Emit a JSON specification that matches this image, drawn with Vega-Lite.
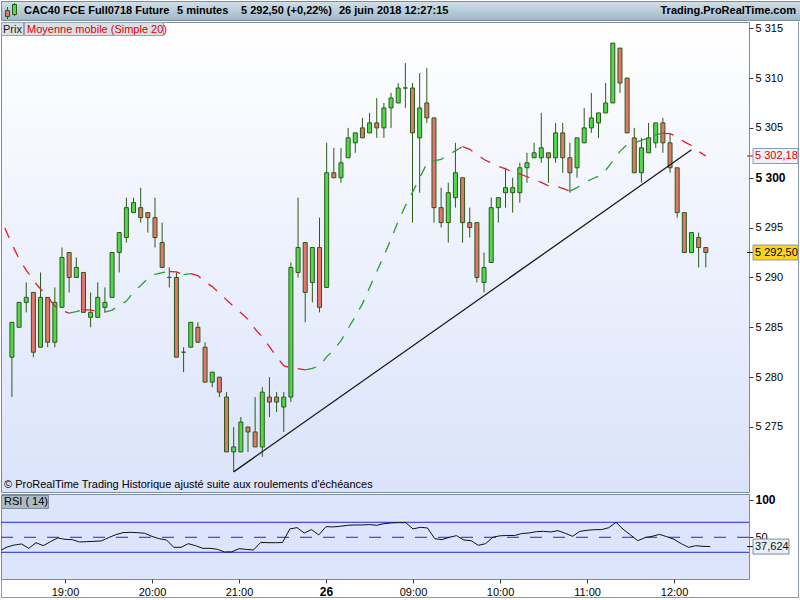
{
  "$schema": "https://vega.github.io/schema/vega-lite/v6.json",
  "padding": 0,
  "background": "#ffffff",
  "config": {
    "font": "Liberation Sans",
    "locale": {"number": {"decimal": ",", "thousands": " ", "grouping": [3], "currency": ["", " €"]}},
    "view": {"stroke": "#7b8d9e", "strokeWidth": 1},
    "axis": {"labelFont": "Liberation Sans", "labelFontSize": 11, "labelColor": "#000000", "tickColor": "#3a3a3a", "tickSize": 4, "domain": false, "grid": false, "labelPadding": 2}
  },
  "datasets": {
    "candles": [
      {"i":0,"o":5282,"h":5285.5,"l":5278,"c":5285.5},
      {"i":1,"o":5285,"h":5287.5,"l":5285,"c":5287.5},
      {"i":2,"o":5287.5,"h":5289.5,"l":5286.5,"c":5288},
      {"i":3,"o":5288.5,"h":5288.5,"l":5282,"c":5282.5},
      {"i":4,"o":5283,"h":5290.5,"l":5283,"c":5288},
      {"i":5,"o":5288,"h":5288,"l":5283,"c":5283.5},
      {"i":6,"o":5283.5,"h":5289,"l":5283,"c":5287.5},
      {"i":7,"o":5287,"h":5293,"l":5287,"c":5292},
      {"i":8,"o":5292.5,"h":5292.5,"l":5288.5,"c":5290},
      {"i":9,"o":5290,"h":5292,"l":5290,"c":5291},
      {"i":10,"o":5290.5,"h":5290.5,"l":5286.5,"c":5286.5},
      {"i":11,"o":5286,"h":5288.5,"l":5285,"c":5286.5},
      {"i":12,"o":5286,"h":5289.5,"l":5286,"c":5288},
      {"i":13,"o":5287,"h":5289,"l":5286.5,"c":5287.5},
      {"i":14,"o":5288,"h":5292.5,"l":5288,"c":5292.5},
      {"i":15,"o":5292.5,"h":5294.5,"l":5290.5,"c":5294.5},
      {"i":16,"o":5294,"h":5298,"l":5293.5,"c":5297},
      {"i":17,"o":5296.5,"h":5298,"l":5296.5,"c":5297.5},
      {"i":18,"o":5297,"h":5299,"l":5295.5,"c":5296},
      {"i":19,"o":5296.5,"h":5296.5,"l":5294.5,"c":5296},
      {"i":20,"o":5296,"h":5298,"l":5293,"c":5294},
      {"i":21,"o":5293.5,"h":5295.5,"l":5291,"c":5291},
      {"i":22,"o":5290,"h":5291,"l":5289,"c":5290},
      {"i":23,"o":5290,"h":5290.5,"l":5282,"c":5282},
      {"i":24,"o":5282.5,"h":5283,"l":5280.5,"c":5282.5},
      {"i":25,"o":5283,"h":5285.5,"l":5283,"c":5285.5},
      {"i":26,"o":5285,"h":5285.5,"l":5283.5,"c":5283.5},
      {"i":27,"o":5283,"h":5283.5,"l":5279.5,"c":5279.5},
      {"i":28,"o":5279.5,"h":5280.5,"l":5279,"c":5280.5},
      {"i":29,"o":5280,"h":5280,"l":5278,"c":5278.5},
      {"i":30,"o":5278,"h":5278.5,"l":5272.5,"c":5272.5},
      {"i":31,"o":5272.5,"h":5275,"l":5270.5,"c":5273},
      {"i":32,"o":5272.5,"h":5276,"l":5272.5,"c":5275.5},
      {"i":33,"o":5275,"h":5275,"l":5272.5,"c":5274.5},
      {"i":34,"o":5274.5,"h":5278,"l":5273,"c":5273},
      {"i":35,"o":5273,"h":5279,"l":5272,"c":5278.5},
      {"i":36,"o":5278,"h":5280,"l":5276,"c":5277.5},
      {"i":37,"o":5278,"h":5278.5,"l":5276.5,"c":5277.5},
      {"i":38,"o":5277,"h":5278.5,"l":5274.5,"c":5278},
      {"i":39,"o":5278,"h":5291.5,"l":5277.5,"c":5291},
      {"i":40,"o":5290.5,"h":5298,"l":5290,"c":5293},
      {"i":41,"o":5293.5,"h":5293.5,"l":5285.5,"c":5288.5},
      {"i":42,"o":5289.5,"h":5293,"l":5287.5,"c":5293},
      {"i":43,"o":5293,"h":5296,"l":5286.5,"c":5287},
      {"i":44,"o":5289,"h":5303.5,"l":5289,"c":5300.5},
      {"i":45,"o":5300.5,"h":5303,"l":5300,"c":5300},
      {"i":46,"o":5300,"h":5303,"l":5299.5,"c":5301.5},
      {"i":47,"o":5302,"h":5305,"l":5302,"c":5304},
      {"i":48,"o":5303.5,"h":5304.5,"l":5302.5,"c":5304.5},
      {"i":49,"o":5305,"h":5306,"l":5304,"c":5304},
      {"i":50,"o":5304.5,"h":5306.5,"l":5304.5,"c":5305.5},
      {"i":51,"o":5305.5,"h":5308,"l":5304,"c":5305},
      {"i":52,"o":5305,"h":5307.5,"l":5304,"c":5307},
      {"i":53,"o":5307,"h":5308.5,"l":5305,"c":5308},
      {"i":54,"o":5307.5,"h":5309.5,"l":5307.5,"c":5309},
      {"i":55,"o":5309,"h":5311.5,"l":5307,"c":5309},
      {"i":56,"o":5309,"h":5309.5,"l":5295.5,"c":5304.5},
      {"i":57,"o":5304,"h":5310.5,"l":5298.5,"c":5307},
      {"i":58,"o":5307.5,"h":5311,"l":5305.5,"c":5306},
      {"i":59,"o":5306,"h":5306,"l":5295.5,"c":5297},
      {"i":60,"o":5297,"h":5299,"l":5295,"c":5295.5},
      {"i":61,"o":5295.5,"h":5299.5,"l":5293.5,"c":5298.5},
      {"i":62,"o":5298,"h":5303.5,"l":5297,"c":5300.5},
      {"i":63,"o":5300,"h":5300,"l":5293.5,"c":5295.5},
      {"i":64,"o":5295.5,"h":5297,"l":5294,"c":5295},
      {"i":65,"o":5295.5,"h":5295.5,"l":5289.5,"c":5290},
      {"i":66,"o":5289.5,"h":5292.5,"l":5288.5,"c":5291},
      {"i":67,"o":5291.5,"h":5298,"l":5291.5,"c":5297},
      {"i":68,"o":5297,"h":5298,"l":5295.5,"c":5298},
      {"i":69,"o":5298.5,"h":5301,"l":5297,"c":5299},
      {"i":70,"o":5298.5,"h":5300,"l":5296.5,"c":5299},
      {"i":71,"o":5298.5,"h":5301.5,"l":5297.5,"c":5301},
      {"i":72,"o":5301,"h":5302.5,"l":5299.5,"c":5301.5},
      {"i":73,"o":5302,"h":5303.5,"l":5302,"c":5302.5},
      {"i":74,"o":5302,"h":5306.5,"l":5301.5,"c":5303},
      {"i":75,"o":5302.5,"h":5302.5,"l":5299.5,"c":5302},
      {"i":76,"o":5302,"h":5305.5,"l":5301.5,"c":5304.5},
      {"i":77,"o":5304.5,"h":5305.5,"l":5300.5,"c":5302},
      {"i":78,"o":5302,"h":5303.5,"l":5298.5,"c":5300.5},
      {"i":79,"o":5301,"h":5304,"l":5300,"c":5304},
      {"i":80,"o":5303.5,"h":5307,"l":5303.5,"c":5305},
      {"i":81,"o":5305,"h":5308.5,"l":5304.5,"c":5306},
      {"i":82,"o":5305.5,"h":5306.5,"l":5304,"c":5306.5},
      {"i":83,"o":5306.5,"h":5309.5,"l":5306.5,"c":5307.5},
      {"i":84,"o":5307.5,"h":5313.5,"l":5307.5,"c":5313.5},
      {"i":85,"o":5313,"h":5313,"l":5308.5,"c":5309.5},
      {"i":86,"o":5310,"h":5310,"l":5304.5,"c":5304.5},
      {"i":87,"o":5304,"h":5305,"l":5300.5,"c":5300.5},
      {"i":88,"o":5300.5,"h":5304,"l":5299.5,"c":5303},
      {"i":89,"o":5302.5,"h":5305.5,"l":5302.5,"c":5304},
      {"i":90,"o":5303.5,"h":5305.5,"l":5303,"c":5305.5},
      {"i":91,"o":5305.5,"h":5306,"l":5302.5,"c":5303.5},
      {"i":92,"o":5303.5,"h":5304.5,"l":5300.5,"c":5301},
      {"i":93,"o":5301,"h":5301,"l":5296,"c":5296.5},
      {"i":94,"o":5296.5,"h":5296.5,"l":5292.5,"c":5292.5},
      {"i":95,"o":5292.5,"h":5294.5,"l":5292.5,"c":5294.5},
      {"i":96,"o":5294,"h":5294.5,"l":5291,"c":5293},
      {"i":97,"o":5293,"h":5293,"l":5291,"c":5292.5}
    ],
    "ma": [
      {"i":-1,"v":5294.96,"s":1,"d":"down"},{"i":0,"v":5293.35,"s":1,"d":"down"},{"i":1,"v":5291.85,"s":1,"d":"down"},{"i":2,"v":5290.74,"s":1,"d":"down"},{"i":3,"v":5289.69,"s":1,"d":"down"},{"i":4,"v":5288.84,"s":1,"d":"down"},{"i":5,"v":5288.03,"s":1,"d":"down"},{"i":6,"v":5287.13,"s":1,"d":"down"},{"i":7,"v":5286.68,"s":1,"d":"down"},{"i":8,"v":5286.43,"s":1,"d":"down"},
      {"i":8,"v":5286.43,"s":2,"d":"up"},{"i":9,"v":5286.58,"s":2,"d":"up"},{"i":10,"v":5286.78,"s":2,"d":"up"},
      {"i":10,"v":5286.78,"s":3,"d":"down"},{"i":11,"v":5286.73,"s":3,"d":"down"},{"i":12,"v":5286.63,"s":3,"d":"down"},{"i":13,"v":5286.53,"s":3,"d":"down"},
      {"i":13,"v":5286.53,"s":4,"d":"up"},{"i":14,"v":5286.73,"s":4,"d":"up"},{"i":15,"v":5287.18,"s":4,"d":"up"},{"i":16,"v":5287.63,"s":4,"d":"up"},{"i":17,"v":5288.54,"s":4,"d":"up"},{"i":18,"v":5289.19,"s":4,"d":"up"},{"i":19,"v":5289.88,"s":4,"d":"up"},{"i":20,"v":5290.3,"s":4,"d":"up"},{"i":21,"v":5290.48,"s":4,"d":"up"},{"i":22,"v":5290.58,"s":4,"d":"up"},
      {"i":22,"v":5290.58,"s":5,"d":"down"},{"i":23,"v":5290.55,"s":5,"d":"down"},{"i":24,"v":5290.28,"s":5,"d":"down"},
      {"i":24,"v":5290.28,"s":6,"d":"up"},{"i":25,"v":5290.38,"s":6,"d":"up"},
      {"i":25,"v":5290.38,"s":7,"d":"down"},{"i":26,"v":5290.18,"s":7,"d":"down"},{"i":27,"v":5289.55,"s":7,"d":"down"},{"i":28,"v":5289.08,"s":7,"d":"down"},{"i":29,"v":5288.45,"s":7,"d":"down"},{"i":30,"v":5287.75,"s":7,"d":"down"},{"i":31,"v":5287.08,"s":7,"d":"down"},{"i":32,"v":5286.45,"s":7,"d":"down"},{"i":33,"v":5285.8,"s":7,"d":"down"},{"i":34,"v":5284.83,"s":7,"d":"down"},{"i":35,"v":5284.03,"s":7,"d":"down"},{"i":36,"v":5283.05,"s":7,"d":"down"},{"i":37,"v":5282.05,"s":7,"d":"down"},{"i":38,"v":5281.15,"s":7,"d":"down"},{"i":39,"v":5280.9,"s":7,"d":"down"},{"i":40,"v":5280.85,"s":7,"d":"down"},{"i":41,"v":5280.73,"s":7,"d":"down"},
      {"i":41,"v":5280.73,"s":8,"d":"up"},{"i":42,"v":5280.88,"s":8,"d":"up"},{"i":43,"v":5281.13,"s":8,"d":"up"},{"i":44,"v":5282.03,"s":8,"d":"up"},{"i":45,"v":5282.75,"s":8,"d":"up"},{"i":46,"v":5283.65,"s":8,"d":"up"},{"i":47,"v":5284.88,"s":8,"d":"up"},{"i":48,"v":5286.08,"s":8,"d":"up"},{"i":49,"v":5287.35,"s":8,"d":"up"},{"i":50,"v":5289.0,"s":8,"d":"up"},{"i":51,"v":5290.6,"s":8,"d":"up"},{"i":52,"v":5292.18,"s":8,"d":"up"},{"i":53,"v":5293.85,"s":8,"d":"up"},{"i":54,"v":5295.65,"s":8,"d":"up"},{"i":55,"v":5297.18,"s":8,"d":"up"},{"i":56,"v":5298.53,"s":8,"d":"up"},{"i":57,"v":5300.0,"s":8,"d":"up"},{"i":58,"v":5301.4,"s":8,"d":"up"},{"i":59,"v":5301.7,"s":8,"d":"up"},{"i":60,"v":5301.83,"s":8,"d":"up"},{"i":61,"v":5302.33,"s":8,"d":"up"},{"i":62,"v":5302.7,"s":8,"d":"up"},{"i":63,"v":5303.13,"s":8,"d":"up"},
      {"i":63,"v":5303.13,"s":9,"d":"down"},{"i":64,"v":5302.85,"s":9,"d":"down"},{"i":65,"v":5302.35,"s":9,"d":"down"},{"i":66,"v":5301.83,"s":9,"d":"down"},{"i":67,"v":5301.48,"s":9,"d":"down"},{"i":68,"v":5301.15,"s":9,"d":"down"},{"i":69,"v":5300.9,"s":9,"d":"down"},{"i":70,"v":5300.58,"s":9,"d":"down"},{"i":71,"v":5300.38,"s":9,"d":"down"},{"i":72,"v":5300.1,"s":9,"d":"down"},{"i":73,"v":5299.83,"s":9,"d":"down"},{"i":74,"v":5299.53,"s":9,"d":"down"},{"i":75,"v":5299.18,"s":9,"d":"down"},{"i":76,"v":5299.18,"s":9,"d":"down"},{"i":77,"v":5298.93,"s":9,"d":"down"},{"i":78,"v":5298.65,"s":9,"d":"down"},
      {"i":78,"v":5298.65,"s":10,"d":"up"},{"i":79,"v":5299.0,"s":10,"d":"up"},{"i":80,"v":5299.48,"s":10,"d":"up"},{"i":81,"v":5299.85,"s":10,"d":"up"},{"i":82,"v":5300.15,"s":10,"d":"up"},{"i":83,"v":5300.75,"s":10,"d":"up"},{"i":84,"v":5301.68,"s":10,"d":"up"},{"i":85,"v":5302.65,"s":10,"d":"up"},{"i":86,"v":5303.33,"s":10,"d":"up"},{"i":87,"v":5303.5,"s":10,"d":"up"},{"i":88,"v":5303.75,"s":10,"d":"up"},{"i":89,"v":5304.0,"s":10,"d":"up"},{"i":90,"v":5304.33,"s":10,"d":"up"},{"i":91,"v":5304.45,"s":10,"d":"up"},
      {"i":91,"v":5304.45,"s":11,"d":"down"},{"i":92,"v":5304.43,"s":11,"d":"down"},{"i":93,"v":5304.13,"s":11,"d":"down"},{"i":94,"v":5303.6,"s":11,"d":"down"},{"i":95,"v":5303.23,"s":11,"d":"down"},{"i":96,"v":5302.65,"s":11,"d":"down"},{"i":97,"v":5302.18,"s":11,"d":"down"}
    ],
    "rsi": [
      {"i":-1,"r":32.0},{"i":0,"r":37.0},{"i":1,"r":39.7},{"i":2,"r":41.1},{"i":3,"r":35.3},{"i":4,"r":42.8},{"i":5,"r":38.8},{"i":6,"r":44.2},{"i":7,"r":49.1},{"i":8,"r":47.3},{"i":9,"r":46.9},
      {"i":10,"r":43.7},{"i":11,"r":44.2},{"i":12,"r":44.6},{"i":13,"r":45.1},{"i":14,"r":49.5},{"i":15,"r":53.5},{"i":16,"r":56.2},{"i":17,"r":56.6},{"i":18,"r":56.2},{"i":19,"r":55.3},
      {"i":20,"r":51.2},{"i":21,"r":48.1},{"i":22,"r":46.4},{"i":23,"r":36.6},{"i":24,"r":36.6},{"i":25,"r":41.5},{"i":26,"r":38.8},{"i":27,"r":35.3},{"i":28,"r":35.3},{"i":29,"r":34.0},
      {"i":30,"r":30.4},{"i":31,"r":30.6},{"i":32,"r":34.8},{"i":33,"r":33.9},{"i":34,"r":33.1},{"i":35,"r":43.3},{"i":36,"r":42.8},{"i":37,"r":42.8},{"i":38,"r":43.0},{"i":39,"r":61.1},
      {"i":40,"r":62.9},{"i":41,"r":55.7},{"i":42,"r":60.2},{"i":43,"r":53.1},{"i":44,"r":64.2},{"i":45,"r":63.8},{"i":46,"r":64.7},{"i":47,"r":66.0},{"i":48,"r":66.4},{"i":49,"r":66.4},
      {"i":50,"r":66.9},{"i":51,"r":66.0},{"i":52,"r":68.1},{"i":53,"r":69.1},{"i":54,"r":69.5},{"i":55,"r":69.5},{"i":56,"r":61.1},{"i":57,"r":63.3},{"i":58,"r":62.4},{"i":59,"r":48.2},
      {"i":60,"r":46.9},{"i":61,"r":50.0},{"i":62,"r":52.2},{"i":63,"r":46.4},{"i":64,"r":45.5},{"i":65,"r":39.3},{"i":66,"r":41.5},{"i":67,"r":50.0},{"i":68,"r":52.0},{"i":69,"r":52.4},
      {"i":70,"r":52.4},{"i":71,"r":55.0},{"i":72,"r":55.7},{"i":73,"r":57.5},{"i":74,"r":57.9},{"i":75,"r":57.1},{"i":76,"r":58.8},{"i":77,"r":55.3},{"i":78,"r":51.3},{"i":79,"r":57.9},
      {"i":80,"r":59.3},{"i":81,"r":60.2},{"i":82,"r":60.2},{"i":83,"r":62.8},{"i":84,"r":69.9},{"i":85,"r":60.6},{"i":86,"r":53.1},{"i":87,"r":45.5},{"i":88,"r":49.5},{"i":89,"r":51.3},
      {"i":90,"r":53.9},{"i":91,"r":50.8},{"i":92,"r":47.3},{"i":93,"r":41.5},{"i":94,"r":36.6},{"i":95,"r":38.8},{"i":96,"r":37.9},{"i":97,"r":37.624}
    ],
    "trend": [{"i":31,"p":5270.5},{"i":95,"p":5302.8}],
    "tags": [{"p":5302.18,"t":"5 302,18","k":"ma"},{"p":5292.5,"t":"5 292,50","k":"last"}],
    "rsitag": [{"r":37.624,"t":"37,624"}]
  },
  "bounds": "flush",
  "spacing": 2,
  "vconcat": [
    {
      "width": 800,
      "height": 19,
      "view": {"fill": {"gradient": "linear", "x1": 0, "y1": 0, "x2": 0, "y2": 1, "stops": [{"offset": 0, "color": "#d2e0e9"}, {"offset": 1, "color": "#9fb7c7"}]}, "stroke": "#7b8d9e"},
      "data": {"values": [{}]},
      "layer": [
        {"mark": {"type": "rule", "color": "#2a5a1a"}, "encoding": {"x": {"value": 6.5}, "y": {"value": 6}, "y2": {"value": 18}}},
        {"mark": {"type": "rect", "fill": "#e3756c", "stroke": "#2a5a1a", "strokeWidth": 1}, "encoding": {"x": {"value": 4.5}, "x2": {"value": 8.5}, "y": {"value": 9.5}, "y2": {"value": 15.5}}},
        {"mark": {"type": "rule", "color": "#2a5a1a"}, "encoding": {"x": {"value": 13.5}, "y": {"value": 2}, "y2": {"value": 15}}},
        {"mark": {"type": "rect", "fill": "#52d64c", "stroke": "#2a5a1a", "strokeWidth": 1}, "encoding": {"x": {"value": 11.5}, "x2": {"value": 15.5}, "y": {"value": 3.5}, "y2": {"value": 13.5}}},
        {"mark": {"type": "text", "text": "CAC40 FCE Full0718 Future", "align": "left", "baseline": "middle", "fontSize": 11, "fontWeight": "bold", "color": "#000000"}, "encoding": {"x": {"value": 23}, "y": {"value": 10}}},
        {"mark": {"type": "text", "text": "5 minutes", "align": "left", "baseline": "middle", "fontSize": 11, "fontWeight": "bold", "color": "#000000"}, "encoding": {"x": {"value": 176}, "y": {"value": 10}}},
        {"mark": {"type": "text", "text": "5 292,50 (+0,22%)", "align": "left", "baseline": "middle", "fontSize": 11, "fontWeight": "bold", "color": "#000000"}, "encoding": {"x": {"value": 240}, "y": {"value": 10}}},
        {"mark": {"type": "text", "text": "26 juin 2018 12:27:15", "align": "left", "baseline": "middle", "fontSize": 11, "fontWeight": "bold", "color": "#000000"}, "encoding": {"x": {"value": 338}, "y": {"value": 10}}},
        {"mark": {"type": "text", "text": "Trading.ProRealTime.com", "align": "right", "baseline": "middle", "fontSize": 11, "fontWeight": "bold", "color": "#000000"}, "encoding": {"x": {"value": 795}, "y": {"value": 10}}}
      ]
    },
    {
      "width": 748,
      "height": 470,
      "view": {"fill": {"gradient": "linear", "x1": 0, "y1": 0, "x2": 0, "y2": 1, "stops": [{"offset": 0, "color": "#ffffff"}, {"offset": 1, "color": "#dae3fa"}]}},
      "layer": [
        {
          "data": {"name": "candles"},
          "mark": {"type": "rule", "color": "#2a5a1a", "strokeWidth": 1},
          "encoding": {
            "x": {"field": "i", "type": "quantitative", "scale": {"domain": [-0.828, 102.34], "nice": false, "zero": false}, "axis": null},
            "y": {
              "field": "l", "type": "quantitative", "title": null,
              "scale": {"domain": [5268.48, 5315.62], "nice": false, "zero": false},
              "axis": {
                "orient": "right",
                "values": [5275, 5280, 5285, 5290, 5295, 5300, 5305, 5310, 5315],
                "format": ",d",
                "labelFontWeight": {"condition": {"test": "datum.value == 5300", "value": "bold"}, "value": "normal"},
                "labelFontSize": {"condition": {"test": "datum.value == 5300", "value": 12}, "value": 11}
              }
            },
            "y2": {"field": "h"}
          }
        },
        {
          "data": {"name": "candles"},
          "mark": {"type": "bar", "width": 4, "stroke": "#2a5a1a", "strokeWidth": 1},
          "encoding": {
            "x": {"field": "i", "type": "quantitative"},
            "y": {"field": "o", "type": "quantitative"},
            "y2": {"field": "c"},
            "fill": {"condition": {"test": "datum.c >= datum.o", "value": "#52d64c"}, "value": "#e3756c"}
          }
        },
        {
          "data": {"name": "ma"},
          "mark": {"type": "line", "strokeWidth": 1.3, "strokeDash": [11, 10], "clip": true},
          "encoding": {
            "x": {"field": "i", "type": "quantitative"},
            "y": {"field": "v", "type": "quantitative"},
            "detail": {"field": "s", "type": "nominal"},
            "color": {"field": "d", "type": "nominal", "scale": {"domain": ["down", "up"], "range": ["#e01f2a", "#2a9f33"]}, "legend": null}
          }
        },
        {
          "data": {"name": "trend"},
          "mark": {"type": "line", "color": "#1a1a1a", "strokeWidth": 1.3},
          "encoding": {
            "x": {"field": "i", "type": "quantitative"},
            "y": {"field": "p", "type": "quantitative"}
          }
        },
        {
          "data": {"name": "tags"},
          "mark": {"type": "rule", "xOffset": -2, "x2Offset": 4, "strokeWidth": 1},
          "encoding": {
            "x": {"value": "width"},
            "x2": {"value": "width"},
            "y": {"field": "p", "type": "quantitative"},
            "color": {"condition": {"test": "datum.k == 'ma'", "value": "#e00000"}, "value": "#000000"}
          }
        },
        {
          "data": {"name": "tags"},
          "mark": {"type": "rect", "xOffset": 4, "x2Offset": 49, "yOffset": -7.5, "y2Offset": 7.5, "stroke": "#8b9cae", "strokeWidth": 1},
          "encoding": {
            "x": {"value": "width"},
            "x2": {"value": "width"},
            "y": {"field": "p", "type": "quantitative"},
            "y2": {"field": "p"},
            "fill": {"condition": {"test": "datum.k == 'ma'", "value": "#eef2f8"}, "value": "#ffd21f"}
          }
        },
        {
          "data": {"name": "tags"},
          "mark": {"type": "text", "align": "left", "baseline": "middle", "dx": 6, "fontSize": 11},
          "encoding": {
            "x": {"value": "width"},
            "y": {"field": "p", "type": "quantitative"},
            "text": {"field": "t"},
            "color": {"condition": {"test": "datum.k == 'ma'", "value": "#e00000"}, "value": "#000000"}
          }
        },
        {
          "data": {"values": [{}]},
          "mark": {"type": "rect", "fill": "#dadfe4", "stroke": "#98a5b1", "strokeWidth": 1},
          "encoding": {"x": {"value": 0.5}, "x2": {"value": 22.5}, "y": {"value": 0.5}, "y2": {"value": 13.5}}
        },
        {
          "data": {"values": [{}]},
          "mark": {"type": "rect", "fill": "#dadfe4", "stroke": "#98a5b1", "strokeWidth": 1},
          "encoding": {"x": {"value": 23.5}, "x2": {"value": 162.5}, "y": {"value": 0.5}, "y2": {"value": 13.5}}
        },
        {
          "data": {"values": [{}]},
          "mark": {"type": "text", "text": "Prix", "align": "left", "baseline": "middle", "fontSize": 11, "color": "#1a1a1a"},
          "encoding": {"x": {"value": 2}, "y": {"value": 7.5}}
        },
        {
          "data": {"values": [{}]},
          "mark": {"type": "text", "text": "Moyenne mobile (Simple 20)", "align": "left", "baseline": "middle", "fontSize": 11, "color": "#e00000"},
          "encoding": {"x": {"value": 26}, "y": {"value": 7.5}}
        },
        {
          "data": {"values": [{}]},
          "mark": {"type": "text", "text": "© ProRealTime Trading  Historique ajusté suite aux roulements d'échéances", "align": "left", "baseline": "middle", "fontSize": 11, "color": "#000000"},
          "encoding": {"x": {"value": 3}, "y": {"value": 463}}
        },
        {
          "data": {"values": [{}]},
          "mark": {"type": "rule", "color": "#8a9aaa", "strokeWidth": 1},
          "encoding": {"x": {"value": 797.5}, "y": {"value": 0}, "y2": {"value": 472}}
        }
      ]
    },
    {
      "width": 748,
      "height": 85,
      "view": {"fill": "#dce5fb"},
      "layer": [
        {
          "data": {"values": [{"r": 70}, {"r": 30}]},
          "mark": {"type": "rule", "color": "#2424e0", "strokeWidth": 1},
          "encoding": {
            "y": {
              "field": "r", "type": "quantitative", "title": null,
              "scale": {"domain": [-5.6, 107.7], "nice": false, "zero": false},
              "axis": {
                "orient": "right",
                "values": [50, 100],
                "labelFontWeight": {"condition": {"test": "datum.value == 100", "value": "bold"}, "value": "normal"},
                "labelFontSize": {"condition": {"test": "datum.value == 100", "value": 12}, "value": 11}
              }
            }
          }
        },
        {
          "data": {"values": [{"r": 50}]},
          "mark": {"type": "rule", "color": "#2424e0", "strokeWidth": 1, "strokeDash": [12, 11]},
          "encoding": {"y": {"field": "r", "type": "quantitative"}}
        },
        {
          "data": {"name": "rsi"},
          "mark": {"type": "line", "color": "#111111", "strokeWidth": 1, "clip": true},
          "encoding": {
            "x": {
              "field": "i", "type": "quantitative", "title": null,
              "scale": {"domain": [-0.828, 102.34], "nice": false, "zero": false},
              "axis": {
                "orient": "bottom",
                "values": [8, 20, 32, 44, 56, 68, 80, 92],
                "labelExpr": "['19:00','20:00','21:00','26','09:00','10:00','11:00','12:00'][round((datum.value - 8) / 12)]",
                "labelFontWeight": {"condition": {"test": "datum.value == 44", "value": "bold"}, "value": "normal"},
                "labelFontSize": {"condition": {"test": "datum.value == 44", "value": 12}, "value": 11},
                "labelPadding": 3
              }
            },
            "y": {"field": "r", "type": "quantitative"}
          }
        },
        {
          "data": {"name": "rsitag"},
          "mark": {"type": "rule", "xOffset": -2, "x2Offset": 4, "color": "#000000"},
          "encoding": {"x": {"value": "width"}, "x2": {"value": "width"}, "y": {"field": "r", "type": "quantitative"}}
        },
        {
          "data": {"name": "rsitag"},
          "mark": {"type": "rect", "xOffset": 4, "x2Offset": 40, "yOffset": -7.5, "y2Offset": 7.5, "fill": "#e9eef6", "stroke": "#7b8d9e", "strokeWidth": 1},
          "encoding": {"x": {"value": "width"}, "x2": {"value": "width"}, "y": {"field": "r", "type": "quantitative"}, "y2": {"field": "r"}}
        },
        {
          "data": {"name": "rsitag"},
          "mark": {"type": "text", "align": "left", "baseline": "middle", "dx": 6, "fontSize": 11, "color": "#111111"},
          "encoding": {"x": {"value": "width"}, "y": {"field": "r", "type": "quantitative"}, "text": {"field": "t"}}
        },
        {
          "data": {"values": [{}]},
          "mark": {"type": "rect", "fill": "#a9bac8", "stroke": "#7b8d9e", "strokeWidth": 1},
          "encoding": {"x": {"value": 0.5}, "x2": {"value": 47.5}, "y": {"value": 1.5}, "y2": {"value": 14.5}}
        },
        {
          "data": {"values": [{}]},
          "mark": {"type": "text", "text": "RSI ( 14)", "align": "left", "baseline": "middle", "fontSize": 11, "color": "#000000"},
          "encoding": {"x": {"value": 3}, "y": {"value": 8}}
        },
        {
          "data": {"values": [{}]},
          "mark": {"type": "rule", "color": "#8a9aaa", "strokeWidth": 1},
          "encoding": {"x": {"value": 797.5}, "y": {"value": 0}, "y2": {"value": 104}}
        },
        {
          "data": {"values": [{}]},
          "mark": {"type": "rule", "color": "#8a9aaa", "strokeWidth": 1},
          "encoding": {"x": {"value": 0}, "x2": {"value": 797.5}, "y": {"value": 103.5}}
        },
        {
          "data": {"values": [{}]},
          "mark": {"type": "rule", "color": "#8a9aaa", "strokeWidth": 1},
          "encoding": {"x": {"value": 0.5}, "y": {"value": 85}, "y2": {"value": 104}}
        }
      ]
    }
  ]
}
